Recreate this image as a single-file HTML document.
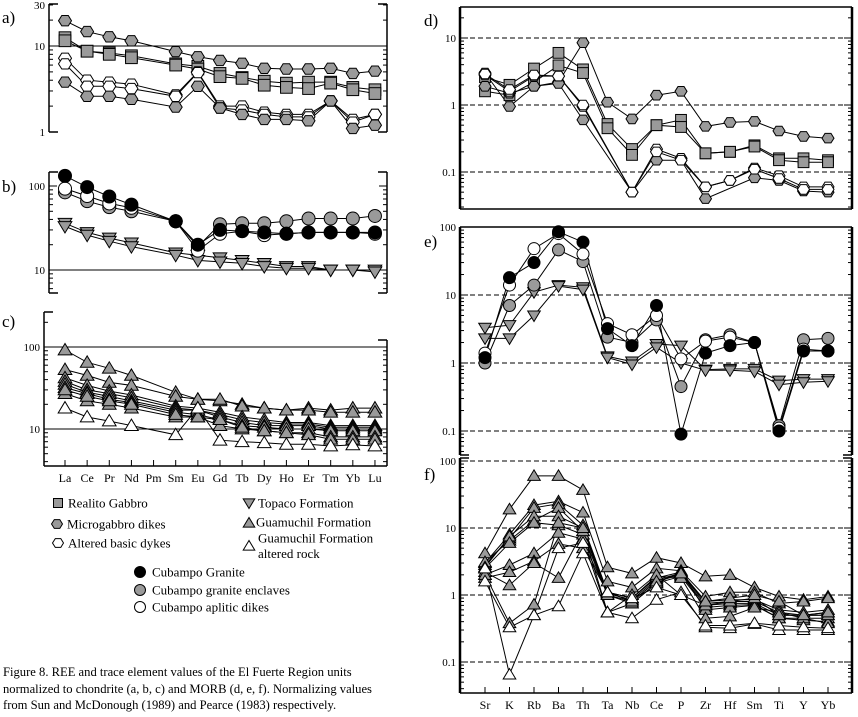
<!DOCTYPE html>
<html><head><meta charset="utf-8"><style>
html,body{margin:0;padding:0;background:#fff;}
body{width:858px;height:717px;overflow:hidden;position:relative;font-family:"Liberation Serif","DejaVu Serif",serif;}
svg{position:absolute;left:0;top:0;}
svg text{font-family:"Liberation Serif","DejaVu Serif",serif;}
.cap{position:absolute;left:3px;top:664px;font-family:"Liberation Serif","DejaVu Serif",serif;font-size:12.6px;line-height:16.5px;color:#000;white-space:nowrap;}
</style></head><body>
<svg id="fig" width="858" height="717" viewBox="0 0 858 717"></svg>
<div class="cap">Figure 8. REE and trace element values of the El Fuerte Region units<br>normalized to chondrite (a, b, c) and MORB (d, e, f). Normalizing values<br>from Sun and McDonough (1989) and Pearce (1983) respectively.</div>
<script>
const reeLabels=["La","Ce","Pr","Nd","Pm","Sm","Eu","Gd","Tb","Dy","Ho","Er","Tm","Yb","Lu"];
const traceLabels=["Sr","K","Rb","Ba","Th","Ta","Nb","Ce","P","Zr","Hf","Sm","Ti","Y","Yb"];
// REE values (Pm = null)
const aRealito1=[12.5,8.7,8.3,7.7,null,6.2,5.8,4.8,4.3,3.9,3.7,3.8,3.8,3.3,3.1];
const aRealito2=[11.5,8.7,8.0,7.3,null,6.0,5.4,4.4,4.2,3.5,3.3,3.2,3.7,3.1,2.8];
const aMicro1=[19.7,14.7,12.8,11.5,null,8.6,7.5,6.8,6.3,5.5,5.4,5.4,5.5,4.8,5.1];
const aMicro2=[3.8,2.6,2.6,2.4,null,1.95,3.4,1.9,1.6,1.4,1.4,1.35,2.3,1.1,1.2];
const aAltered1=[7.2,4.0,3.8,3.6,null,2.7,5.0,2.0,2.0,1.7,1.6,1.6,2.3,1.4,1.6];
const aAltered2=[6.2,3.4,3.4,3.2,null,2.6,4.9,1.9,1.8,1.6,1.5,1.5,2.3,1.3,1.6];
const bGranite=[132,97,75,60,null,38,20,30,29,28,27,28,28,28,28];
const bAplitic=[93,76,62,55,null,38,17,27,29,26,27,28,28,28,27];
const bEnclave=[84,66,56,50,null,38,19,35,36,36,38,41,41,41,44];
const bTopaco1=[36,28,24,21,null,16,15,14,13,12,11,11,10,10,10];
const bTopaco2=[33,26,22,19,null,15,13,12.5,12,11,10.5,10.5,10,10,9.5];
const cG1=[92,65,55,45,null,28,23,22,20,18,17,18,17,18,18];
const cG2=[53,45,37,34,null,25,23,23,19,18,17,17,16,16,16];
const cG3=[42,34,29,26,null,19,18,16,14,13,12,12,11,11,11];
const cG4=[38,30,27,24,null,18,17,15,13,12,11.5,11.5,10.5,10.5,10.5];
const cG5=[35,28,25,22,null,17,17,14,12,11,11,11,10,10,10];
const cG6=[32,27,23,21,null,16,15,13,11,10.5,10,10,9.5,9.5,9.5];
const cG7=[27,22,20,18,null,14,14,11,10,9.5,9,9,8,8,8];
const cG8=[30,25,22,20,null,15,14,13,10.5,9.5,9,8.5,7.5,7.5,7.5];
const cAlt1=[18,14,12.5,11,null,8.5,18,7.3,7,6.8,6.5,6.5,6.2,6.4,6.2];
// Trace (MORB normalized)
const dMicro1=[3.0,0.95,1.9,2.2,8.5,1.1,0.62,1.4,1.6,0.48,0.55,0.57,0.41,0.34,0.32];
const dRealito1=[2.6,2.0,3.5,6.0,3.4,0.52,0.22,0.5,0.6,0.19,0.2,0.25,0.16,0.16,0.15];
const dRealito2=[1.6,1.4,2.2,3.9,3.0,0.45,0.18,0.5,0.47,0.19,0.2,0.24,0.15,0.14,0.14];
const dAltered1=[2.8,1.6,2.7,2.7,0.95,null,0.05,0.22,0.16,0.06,0.075,0.115,0.088,0.06,0.06];
const dAltered2=[2.9,1.7,2.8,2.7,1.0,null,0.05,0.2,0.15,0.06,0.075,0.11,0.08,0.055,0.055];
const dMicro2=[1.9,1.5,1.9,2.1,0.6,null,0.05,0.15,0.15,0.04,null,0.082,0.075,0.052,0.05];
const eGranite=[1.2,18,30,85,60,3.2,1.8,7,0.09,1.4,1.8,2.0,0.1,1.5,1.5];
const eAplitic=[1.4,14,48,80,40,3.8,2.6,5,1.15,2.1,2.4,2.0,0.11,1.6,1.5];
const eEnclave=[1.0,7,14,46,31,2.4,2.0,4.3,0.45,2.2,2.6,2.0,0.12,2.2,2.3];
const eTopaco1=[3.3,3.6,11,14,13,1.25,1.05,1.9,1.8,0.8,0.82,0.82,0.55,0.58,0.58];
const eTopaco2=[2.3,2.3,5,13.5,12,1.2,0.95,1.7,1.0,0.78,0.78,0.75,0.48,0.52,0.54];
const fG1=[4.2,19,60,60,37,2.6,2.1,3.6,3.0,1.9,2.0,1.3,0.95,0.85,0.95];
const fG2=[3.0,8,22,25,17,1.6,1.3,2.5,2.3,0.95,1.1,1.1,0.75,0.8,0.9];
const fG3=[2.8,7,20,23,11,1.1,0.9,1.8,2.2,0.8,0.85,0.85,0.6,0.55,0.6];
const fG4=[3.1,6.5,13,20,9,1.05,0.85,1.7,2.1,0.75,0.8,0.8,0.55,0.5,0.55];
const fG5=[2.6,7.5,15,15,10,1.0,0.8,1.6,2.0,0.7,0.75,0.75,0.5,0.5,0.5];
const fG6=[2.5,6,12,11,8,1.0,0.75,1.5,1.9,0.65,0.7,0.72,0.45,0.45,0.45];
const fG7=[2.0,2.8,4.2,8.5,6.8,0.55,0.75,1.5,2.2,0.6,0.65,0.7,0.45,0.42,0.4];
const fG8=[1.8,2.2,3.2,5.8,5,1.1,0.9,1.9,1.8,0.45,0.48,0.65,0.55,0.45,0.38];
const fG9=[2.2,1.4,3.0,1.8,9,0.55,1.0,2.0,1.0,0.7,0.8,0.9,0.5,0.5,0.5];
const fG10=[2.0,0.38,0.72,12,10,1.1,0.8,1.6,2.1,0.8,0.9,1.0,0.8,0.5,0.55];
const fW1=[1.6,0.33,0.5,0.68,4.2,0.55,0.45,0.85,1.1,0.33,0.32,0.37,0.3,0.3,0.3];
const fW2=[2.5,0.065,0.5,5,6,1.1,0.9,1.3,1.0,0.35,0.35,0.38,0.35,0.33,0.32];

const NS="http://www.w3.org/2000/svg";
const svg=document.getElementById('fig');
function mk(tag,attrs,parent){const e=document.createElementNS(NS,tag);for(const k in attrs)e.setAttribute(k,attrs[k]);(parent||svg).appendChild(e);return e;}
const GRAY="#9a9a9a";
function marker(g,shape,fill,x,y,r){
  let e;
  if(shape==='circle'){e=mk('circle',{cx:x,cy:y,r:r},g);}
  else if(shape==='square'){e=mk('rect',{x:x-r*0.9,y:y-r*0.9,width:r*1.8,height:r*1.8},g);}
  else if(shape==='hex'){let p=[];for(let k=0;k<6;k++){const a=Math.PI/3*k;p.push((x+r*Math.cos(a)).toFixed(1)+','+(y+r*0.92*Math.sin(a)).toFixed(1));}e=mk('polygon',{points:p.join(' ')},g);}
  else if(shape==='tri'){e=mk('polygon',{points:`${x},${y-r} ${x-r*1.05},${y+r*0.75} ${x+r*1.05},${y+r*0.75}`},g);}
  else {e=mk('polygon',{points:`${x},${y+r} ${x-r*1.05},${y-r*0.75} ${x+r*1.05},${y-r*0.75}`},g);}
  e.setAttribute('fill',fill);e.setAttribute('stroke','#000');e.setAttribute('stroke-width','1');
  
  
}
function panel(p){
  const g=mk('g',{});
  
  
  const yv=v=>p.yRef-(Math.log10(v)-Math.log10(p.vRef))*p.dec;
  const xv=i=>p.x0+i*p.dx;
  p.grid.forEach(v=>{const l=mk('line',{x1:p.L+2,x2:p.R-2,y1:yv(v),y2:yv(v),stroke:'#000','stroke-width':1,'stroke-dasharray':p.dash?'5,3':'none'},g);
    });
  const al=mk('line',{x1:p.L,x2:p.L,y1:p.T,y2:p.B,stroke:'#000','stroke-width':p.aw},g);
  
  const ar=mk('line',{x1:p.R,x2:p.R,y1:p.Tr||p.T,y2:p.B,stroke:'#000','stroke-width':p.aw},g);
  
  if(p.top) mk('line',{x1:p.L,x2:p.R,y1:p.T,y2:p.T,stroke:'#000','stroke-width':1.5},g);
  if(p.bottom){const b=mk('line',{x1:p.L,x2:p.R,y1:p.B,y2:p.B,stroke:'#000','stroke-width':1.5},g);
    }
  else {mk('line',{x1:p.L,x2:p.L+9,y1:p.B,y2:p.B,stroke:'#000','stroke-width':1.5},g);mk('line',{x1:p.R-9,x2:p.R,y1:p.B,y2:p.B,stroke:'#000','stroke-width':1.5},g);}
  if(!p.top){mk('line',{x1:p.L,x2:p.L+9,y1:p.T,y2:p.T,stroke:'#000','stroke-width':1.5},g);mk('line',{x1:p.R-9,x2:p.R,y1:p.Tr||p.T,y2:p.Tr||p.T,stroke:'#000','stroke-width':1.5},g);}
  for(let d=-3;d<=3;d++){for(let m=1;m<10;m++){const v=m*Math.pow(10,d);const y=yv(v);
    if(y<p.T-0.5||y>p.B+0.5)continue;const len=m===1?8:4;
    mk('line',{x1:p.L,x2:p.L+len,y1:y,y2:y,stroke:'#000','stroke-width':1},g);
    if(y>=(p.Tr||p.T)) mk('line',{x1:p.R-len,x2:p.R,y1:y,y2:y,stroke:'#000','stroke-width':1},g);}}
  p.ticks.forEach((t,i)=>{const tx=mk('text',{x:p.L-4,y:yv(p.tickVals[i])+4,'font-size':11,'text-anchor':'end'},g);tx.textContent=t;
    });
  const lab=mk('text',{x:p.lx,y:p.ly,'font-size':17},g);lab.textContent=p.id+')';
  
  if(p.cats){p.cats.forEach((c,i)=>{mk('line',{x1:xv(i),x2:xv(i),y1:p.B,y2:p.B-6,stroke:'#000','stroke-width':1},g);
    const t=mk('text',{x:xv(i),y:p.B+16,'font-size':12,'text-anchor':'middle'},g);t.textContent=c;
    });}
  p.series.forEach(s=>{const pts=[];s.vals.forEach((v,i)=>{if(v!=null)pts.push(xv(i).toFixed(1)+','+yv(v).toFixed(1));});
    const pl=mk('polyline',{points:pts.join(' '),fill:'none',stroke:'#000','stroke-width':1},g);
    });
  p.series.forEach(s=>{s.vals.forEach((v,i)=>{if(v!=null)marker(g,s.shape,s.fill,xv(i),yv(v),p.r);});});
}
panel({id:'a',L:49,R:387,T:4,B:132,aw:1.5,yRef:46,vRef:10,dec:86,grid:[10],dash:false,ticks:["30","10","1"],tickVals:[30,10,1],lx:2,ly:23,x0:65,dx:22.14,r:6.5,
 series:[{name:'realito1',vals:aRealito1,shape:'square',fill:GRAY},{name:'realito2',vals:aRealito2,shape:'square',fill:GRAY},
 {name:'micro1',vals:aMicro1,shape:'hex',fill:GRAY},{name:'altered1',vals:aAltered1,shape:'hex',fill:'#fff'},{name:'altered2',vals:aAltered2,shape:'hex',fill:'#fff'},{name:'micro2',vals:aMicro2,shape:'hex',fill:GRAY}]});
panel({id:'b',L:49,R:387,T:172,B:293,aw:1.5,yRef:186,vRef:100,dec:84,grid:[10],dash:false,ticks:["100","10"],tickVals:[100,10],lx:2,ly:192,x0:65,dx:22.14,r:6.5,
 series:[{name:'topaco1',vals:bTopaco1,shape:'tdown',fill:GRAY},{name:'topaco2',vals:bTopaco2,shape:'tdown',fill:GRAY},
 {name:'enclave',vals:bEnclave,shape:'circle',fill:GRAY},{name:'aplitic',vals:bAplitic,shape:'circle',fill:'#fff'},{name:'granite',vals:bGranite,shape:'circle',fill:'#000'}]});
panel({id:'c',L:44,R:387,T:312,Tr:340,B:466,aw:1.5,bottom:true,yRef:347,vRef:100,dec:82,grid:[100,10],dash:false,ticks:["100","10"],tickVals:[100,10],lx:2,ly:327,x0:65,dx:22.14,r:6.5,cats:reeLabels,
 series:[cG1,cG2,cG3,cG4,cG5,cG6,cG7,cG8].map((v,i)=>({name:'guamuchil'+(i+1),vals:v,shape:'tri',fill:GRAY})).concat([{name:'guamuchil-altered',vals:cAlt1,shape:'tri',fill:'#fff'}])});
panel({id:'d',L:460,R:852,T:7,B:209,aw:2.5,top:true,bottom:true,yRef:38,vRef:10,dec:67,grid:[10,1,0.1],dash:true,ticks:["10","1","0.1"],tickVals:[10,1,0.1],lx:424,ly:26,x0:485,dx:24.5,r:6,
 series:[{name:'micro1',vals:dMicro1,shape:'hex',fill:GRAY},{name:'realito1',vals:dRealito1,shape:'square',fill:GRAY},{name:'realito2',vals:dRealito2,shape:'square',fill:GRAY},
 {name:'micro2',vals:dMicro2,shape:'hex',fill:GRAY},{name:'altered1',vals:dAltered1,shape:'hex',fill:'#fff'},{name:'altered2',vals:dAltered2,shape:'hex',fill:'#fff'}]});
panel({id:'e',L:460,R:852,T:227,B:455,aw:2.5,top:true,bottom:false,yRef:227,vRef:100,dec:68,grid:[10,1,0.1],dash:true,ticks:["100","10","1","0.1"],tickVals:[100,10,1,0.1],lx:424,ly:247,x0:485,dx:24.5,r:6,
 series:[{name:'topaco1',vals:eTopaco1,shape:'tdown',fill:GRAY},{name:'topaco2',vals:eTopaco2,shape:'tdown',fill:GRAY},
 {name:'enclave',vals:eEnclave,shape:'circle',fill:GRAY},{name:'aplitic',vals:eAplitic,shape:'circle',fill:'#fff'},{name:'granite',vals:eGranite,shape:'circle',fill:'#000'}]});
panel({id:'f',L:460,R:852,T:458,B:693,aw:2.5,bottom:true,yRef:461,vRef:100,dec:67,grid:[100,10,1,0.1],dash:true,ticks:["100","10","1","0.1"],tickVals:[100,10,1,0.1],lx:424,ly:480,x0:485,dx:24.5,r:6,cats:traceLabels,
 series:[fG1,fG2,fG3,fG4,fG5,fG6,fG7,fG8,fG9,fG10].map((v,i)=>({name:'guamuchil'+(i+1),vals:v,shape:'tri',fill:GRAY})).concat([{name:'altered1',vals:fW1,shape:'tri',fill:'#fff'},{name:'altered2',vals:fW2,shape:'tri',fill:'#fff'}])});
// legend
const leg=mk('g',{});


const legendItems=[["square",GRAY,58,503,503,"Realito Gabbro",68],["hex",GRAY,57,524,524,"Microgabbro dikes",67],["hex","#fff",58,543,543,"Altered basic dykes",68],
 ["tdown",GRAY,249,503,503,"Topaco Formation",258],["tri",GRAY,249,523,522,"Guamuchil Formation",256],["tri","#fff",249,546,538,"Guamuchil Formation",258],
 ["circle","#000",140,572,572,"Cubampo Granite",152],["circle",GRAY,140,590,590,"Cubampo granite enclaves",152],["circle","#fff",140,607,607,"Cubampo aplitic dikes",152]];
legendItems.forEach(it=>{marker(leg,it[0],it[1],it[2],it[3],it[0]==='square'?5:5.5);
  const t=mk('text',{x:it[6],y:it[4]+4.5,'font-size':13},leg);t.textContent=it[5];
  });
const t2=mk('text',{x:258,y:558,'font-size':13},leg);t2.textContent="altered rock";


</script>
</body></html>
